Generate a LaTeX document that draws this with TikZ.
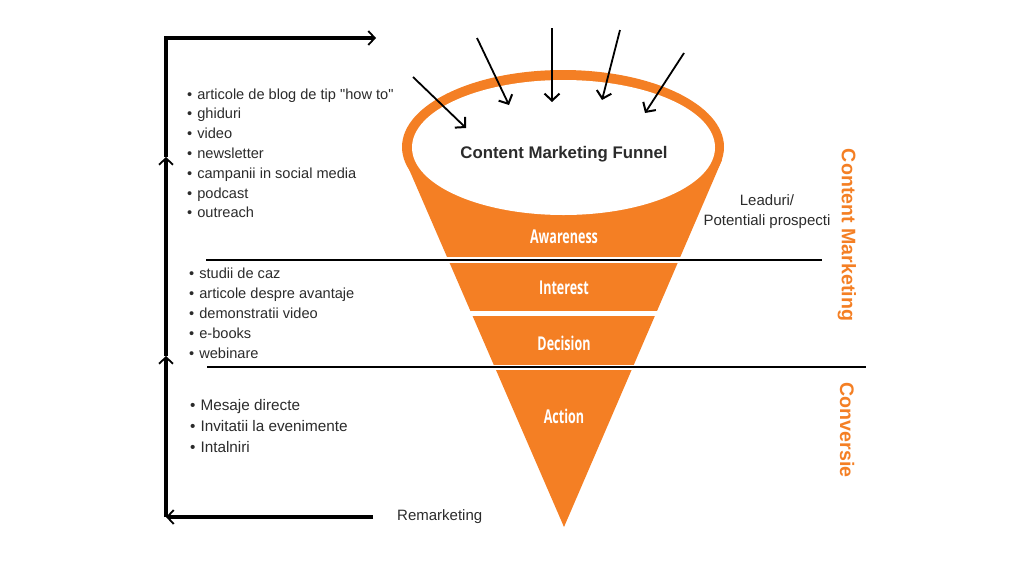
\documentclass[tikz,border=0pt]{standalone}
\usepackage{fontspec}
\setmainfont{Liberation Sans}[Ligatures=TeXOff]
\newfontfamily\labfont[FakeStretch=0.66]{Open Sans}
\usetikzlibrary{arrows.meta}
\definecolor{fun}{HTML}{F47F24}
\definecolor{txt}{HTML}{2B2B2B}
\begin{document}
\begin{tikzpicture}[x=1pt,y=-1pt,
  loopline/.style={line width=3.2pt, line join=miter, -{Straight Barb[length=6.5pt,width=14pt,line width=1.8pt]}},
  inarrow/.style={line width=1.8pt, -{Straight Barb[length=7pt,width=15pt,line width=2pt]}},
  sep/.style={line width=2.2pt},
  item/.style={anchor=base west, inner sep=0pt, text=txt, font=\fontsize{14.6}{17}\selectfont},
  itembig/.style={item, font=\fontsize{15.3}{18}\selectfont},
  band/.style={text=white, font=\labfont\bfseries\fontsize{19}{21}\selectfont, inner sep=0pt},
  side/.style={rotate=-90, text=fun, font=\bfseries\fontsize{19.6}{22}\selectfont, inner sep=0pt},
  plain/.style={text=txt, font=\fontsize{15}{17}\selectfont, inner sep=0pt}]
\useasboundingbox (0,0) rectangle (1024,563);
% funnel
\fill[fun] (563,147) ellipse [x radius=161, y radius=77];
\fill[fun] (405,160) -- (722,160) -- (564,527) -- cycle;
\fill[white] (563.5,147.5) ellipse [x radius=151.5, y radius=67.5];
\fill[white] (380,257) rectangle (750,263);
\fill[white] (380,311) rectangle (750,316);
\fill[white] (380,365) rectangle (750,370);
% separator lines
\coordinate (s1a) at (206,260); \coordinate (s1b) at (822,260);
\coordinate (s2a) at (207,367); \coordinate (s2b) at (866,367);
\draw[sep] (s1a) -- (s1b);
\draw[sep] (s2a) -- (s2b);
% titles
\node[text=txt, font=\bfseries\fontsize{16.8}{19}\selectfont, inner sep=0pt] (title) at (564,154) {Content Marketing Funnel};
\node[band] (aw) at (564,237) {Awareness};
\node[band] (in) at (564,288) {Interest};
\node[band] (de) at (564,343) {Decision};
\node[band] (ac) at (564,416) {Action};
% incoming arrows
\coordinate (a1s) at (413,77);  \coordinate (a1e) at (466,128);
\coordinate (a2s) at (477,38);  \coordinate (a2e) at (509,105);
\coordinate (a3s) at (552,28);  \coordinate (a3e) at (552,102);
\coordinate (a4s) at (620,30);  \coordinate (a4e) at (602,100);
\coordinate (a5s) at (684,53);  \coordinate (a5e) at (645,113);
\foreach \i in {1,...,5} \draw[inarrow] (a\i s) -- (a\i e);
% loop
\coordinate (rb) at (373,517);
\coordinate (lb) at (166,517);
\coordinate (lm1) at (166,356);
\coordinate (lm2) at (166,157);
\coordinate (lt) at (166,38);
\coordinate (rt) at (376,38);
\draw[loopline] (rb) -- (lb);
\draw[loopline] (lb) -- (lm1);
\draw[loopline] (lm1) -- (lm2);
\draw[loopline] (lm2) -- (lt) -- (rt);
% lists
\foreach \t [count=\k] in {articole de blog de tip "how to",ghiduri,video,newsletter,campanii in social media,podcast,outreach}
  \node[item] (l1\k) at (187,{99+19.8*(\k-1)}) {•\hspace{5pt}\t};
\foreach \t [count=\k] in {studii de caz,articole despre avantaje,demonstratii video,e-books,webinare}
  \node[item] (l2\k) at (189,{278+20*(\k-1)}) {•\hspace{5pt}\t};
\foreach \t [count=\k] in {Mesaje directe,Invitatii la evenimente,Intalniri}
  \node[itembig] (l3\k) at (190,{410.5+21*(\k-1)}) {•\hspace{5pt}\t};
% right texts
\node[plain] (lead1) at (767,200) {Leaduri/};
\node[plain] (lead2) at (767,222) {Potentiali prospecti};
\node[plain, anchor=west] (remk) at (397,517) {Remarketing};
\node[side] (cm) at (847,235) {Content Marketing};
\node[side] (cv) at (847,430) {Conversie};
\end{tikzpicture}
\end{document}
